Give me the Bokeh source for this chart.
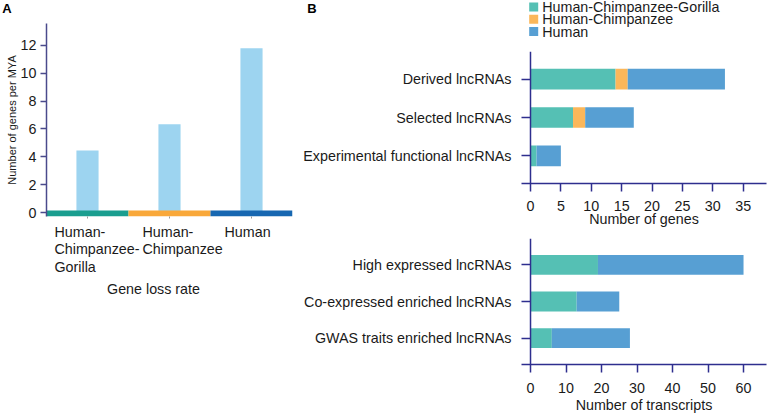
from bokeh.plotting import figure
from bokeh.models import Range1d, FactorRange, FixedTicker, Span, ColumnDataSource
from bokeh.core.properties import value
from bokeh.layouts import row, column
from bokeh.embed import file_html
from bokeh.resources import INLINE

FONT = "Liberation Sans"
FS = "14.3px"
TXT = "#1a1a1a"
AX_A = "#4a4a8c"
AX_B = "#2e2e8e"

# ---------------- data ----------------
loss_groups = ["Human-\nChimpanzee-\nGorilla", "Human-\nChimpanzee", "Human"]
loss_rate = [4.45, 6.35, 11.8]
loss_yticks = [0, 2, 4, 6, 8, 10, 12]
band_colors = ["#1a9e8f", "#f9a83a", "#1767b1"]

series = ["Human-Chimpanzee-Gorilla", "Human-Chimpanzee", "Human"]
series_colors = ["#55c0b4", "#fbb75a", "#579fd3"]

gene_cats = ["Derived lncRNAs", "Selected lncRNAs", "Experimental functional lncRNAs"]
gene_hcg = [14, 7, 1]
gene_hc = [2, 2, 0]
gene_h = [16, 8, 4]
gene_xticks = [0, 5, 10, 15, 20, 25, 30, 35]

tx_cats = ["High expressed lncRNAs", "Co-expressed enriched lncRNAs", "GWAS traits enriched lncRNAs"]
tx_hcg = [19, 13, 6]
tx_hc = [0, 0, 0]
tx_h = [41, 12, 22]
tx_xticks = [0, 10, 20, 30, 40, 50, 60]


def fig(**kw):
    p = figure(output_backend="svg", toolbar_location=None, **kw)
    p.outline_line_color = None
    p.xgrid.grid_line_color = None
    p.ygrid.grid_line_color = None
    p.background_fill_color = "white"
    p.border_fill_color = "white"
    return p


def blank(w, h, xr=None, yr=None, **kw):
    p = fig(width=w, height=h,
            x_range=xr if xr is not None else Range1d(0, w),
            y_range=yr if yr is not None else Range1d(h, 0),
            x_axis_location=None, y_axis_location=None,
            min_border_top=0, min_border_bottom=0,
            **kw)
    return p


def style_axis(ax, color):
    ax.axis_line_color = color
    ax.axis_line_width = 1.5
    ax.major_tick_line_color = color
    ax.major_tick_line_width = 1.5
    ax.minor_tick_line_color = None
    ax.major_label_text_font = FONT
    ax.major_label_text_font_size = FS
    ax.major_label_text_color = TXT
    ax.axis_label_text_font = FONT
    ax.axis_label_text_font_size = FS
    ax.axis_label_text_font_style = "normal"
    ax.axis_label_text_color = TXT


# ---------------- panel A ----------------
pAhead = blank(300, 23, min_border_left=0, min_border_right=0)
pAhead.text(x=[1.7], y=[0.8], text=["A"], text_font=value(FONT),
            text_font_size=value("13px"), text_font_style="bold",
            text_align="left", text_baseline="top", text_color="black")

pA = fig(width=300, height=199, x_range=Range1d(0, 3), y_range=Range1d(-0.287, 13.58),
         min_border_left=46, min_border_right=8, min_border_top=0, min_border_bottom=6)
xs = [i + 0.5 for i in range(len(loss_groups))]
pA.vbar(x=xs, top=loss_rate, bottom=0, width=0.27, color="#9dd4f0", line_color=None)
pA.quad(left=[i for i in range(len(loss_groups))],
        right=[i + 1 for i in range(len(loss_groups))],
        bottom=-0.29, top=0.14, color=band_colors, line_color=None)

ya = pA.yaxis[0]
style_axis(ya, AX_A)
ya.ticker = FixedTicker(ticks=loss_yticks)
ya.bounds = (-0.287, 13.58)
ya.major_tick_out = 6
ya.major_tick_in = 0
ya.major_label_standoff = 4
ya.axis_label = "Number of genes per MYA"
ya.axis_label_text_font_size = "11px"
ya.axis_label_standoff = 0

xa = pA.xaxis[0]
style_axis(xa, AX_A)
xa.ticker = FixedTicker(ticks=xs)
xa.axis_line_color = None
xa.major_tick_out = 2
xa.major_tick_in = 0
xa.major_tick_line_color = "#9a9a9a"
xa.major_tick_line_width = 1
xa.major_label_text_color = None
xa.major_label_text_font_size = "0px"
xa.major_label_standoff = 0

pAlab = blank(300, 193, xr=pA.x_range, yr=Range1d(193, 0),
              min_border_left=46, min_border_right=8)
pAlab.text(x=xs, y=[1.3] * len(xs), text=loss_groups, x_offset=[-33, -27, -27],
           text_font=value(FONT), text_font_size=value(FS), text_line_height=1.1,
           text_align="left", text_baseline="top", text_color=TXT)
pAlab.text(x=[1.305], y=[58.2], text=["Gene loss rate"], text_font=value(FONT),
           text_font_size=value(FS), text_align="center", text_baseline="top",
           text_color=TXT)

colA = column(row(pAhead), pA, pAlab)

# ---------------- panel B header (letter + legend) ----------------
B_W = 469
pBhead = blank(B_W, 45, min_border_left=0, min_border_right=0)
pBhead.text(x=[6.7], y=[0.8], text=["B"], text_font=value(FONT),
            text_font_size=value("13px"), text_font_style="bold",
            text_align="left", text_baseline="top", text_color="black")
leg_y = [6.4 + 12.3 * i for i in range(len(series))]
pBhead.rect(x=[233.2] * len(series), y=leg_y, width=9, height=9,
            color=series_colors, line_color=None)
pBhead.text(x=[241.7] * len(series), y=leg_y, text=series, text_font=value(FONT),
            text_font_size=value(FS), text_align="left", text_baseline="middle",
            text_color=TXT)


def style_cat_y(ax):
    style_axis(ax, AX_B)
    ax.axis_line_color = None
    ax.major_tick_in = 9
    ax.major_tick_out = 0
    ax.major_label_standoff = 10


def style_num_x(ax, ticks, label, std, lstd):
    style_axis(ax, AX_B)
    ax.ticker = FixedTicker(ticks=ticks)
    ax.major_tick_out = 8
    ax.major_tick_in = 0
    ax.major_label_standoff = std
    ax.axis_label = label
    ax.axis_label_standoff = lstd


# ---------------- panel B (genes) ----------------
pB1 = fig(width=B_W, height=184,
          y_range=FactorRange(factors=gene_cats[::-1], range_padding=0.22,
                              range_padding_units="absolute"),
          x_range=Range1d(-1.48, 38.84),
          min_border_left=221, min_border_right=3,
          min_border_top=6, min_border_bottom=44)
src1 = ColumnDataSource(dict(cat=gene_cats, hcg=gene_hcg, hc=gene_hc, h=gene_h))
pB1.hbar_stack(["hcg", "hc", "h"], y="cat", height=0.54,
               color=series_colors, line_color=None, source=src1)
pB1.add_layout(Span(location=0, dimension="height", line_color=AX_B, line_width=1.5))
style_cat_y(pB1.yaxis[0])
style_num_x(pB1.xaxis[0], gene_xticks, "Number of genes", 9, -3)

# ---------------- panel B (transcripts) ----------------
pB2 = fig(width=B_W, height=186,
          y_range=FactorRange(factors=tx_cats[::-1], range_padding=0.22,
                              range_padding_units="absolute"),
          x_range=Range1d(-2.54, 66.47),
          min_border_left=221, min_border_right=3,
          min_border_top=9, min_border_bottom=44)
src2 = ColumnDataSource(dict(cat=tx_cats, hcg=tx_hcg, hc=tx_hc, h=tx_h))
pB2.hbar_stack(["hcg", "hc", "h"], y="cat", height=0.54,
               color=series_colors, line_color=None, source=src2)
pB2.add_layout(Span(location=0, dimension="height", line_color=AX_B, line_width=1.5))
style_cat_y(pB2.yaxis[0])
style_num_x(pB2.xaxis[0], tx_xticks, "Number of transcripts", 10, 1)

colB = column(row(pBhead), pB1, pB2)
layout = row(colA, colB)
open("out.html", "w").write(file_html(layout, INLINE))
